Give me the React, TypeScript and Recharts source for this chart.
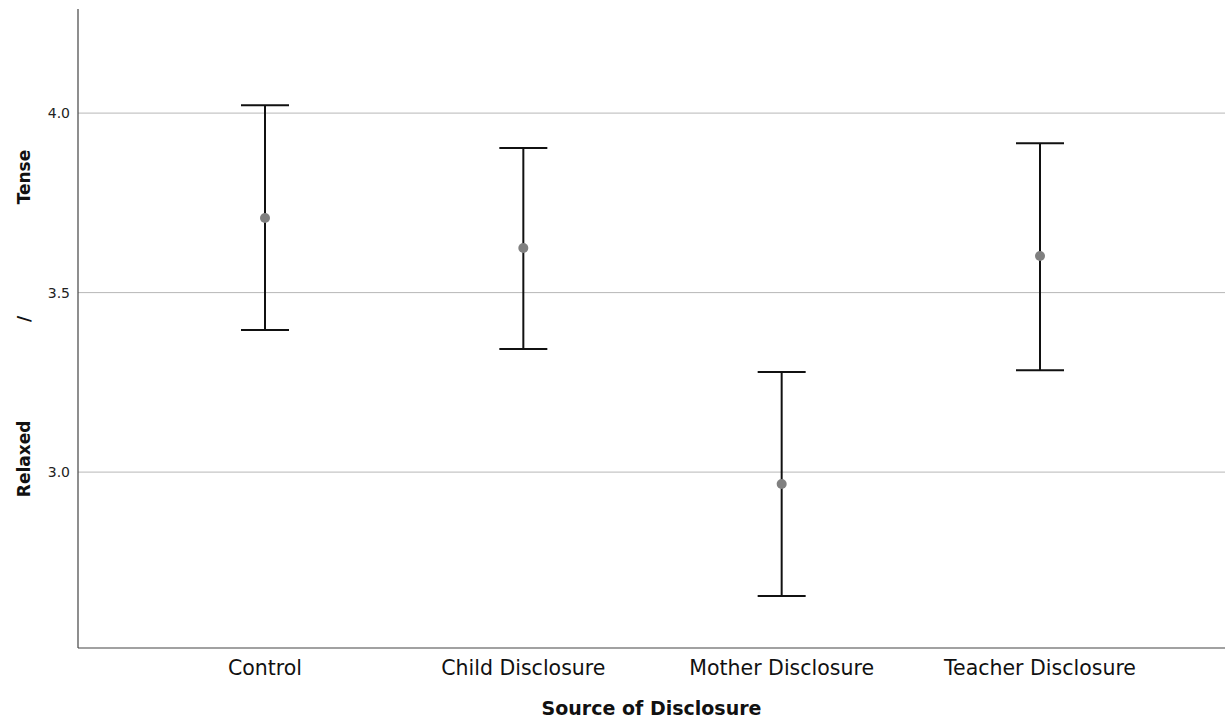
import React from 'react';
import { ComposedChart, Scatter, ErrorBar, XAxis, YAxis, CartesianGrid, Label } from 'recharts';

const categories = ['Control', 'Child Disclosure', 'Mother Disclosure', 'Teacher Disclosure'];
const means = [3.708, 3.624, 2.967, 3.602];
const lowers = [3.396, 3.343, 2.655, 3.284];
const uppers = [4.022, 3.903, 3.279, 3.916];
const yTicks = [3.0, 3.5, 4.0];
const yDomain = [2.51, 4.29];

const data = categories.map((c, i) => ({
  name: c,
  mean: means[i],
  err: [means[i] - lowers[i], uppers[i] - means[i]],
}));

const FONT = 'DejaVu Sans, Verdana, sans-serif';

const YTitle = (props: any) => {
  const vb = props.viewBox || { x: 0, y: 9, width: 78, height: 639 };
  const x = 24;
  const parts: [string, number][] = [
    ['Relaxed', 0.704],
    ['/', 0.485],
    ['Tense', 0.263],
  ];
  return (
    <g>
      {parts.map(([t, f]) => {
        const y = vb.y + vb.height * f;
        return (
          <text
            key={t}
            x={x}
            y={y}
            transform={`rotate(-90, ${x}, ${y})`}
            textAnchor="middle"
            dominantBaseline="central"
            fontFamily={FONT}
            fontWeight="bold"
            fontSize={17}
            fill="#111"
          >
            {t}
          </text>
        );
      })}
    </g>
  );
};

const Dot = (props: any) => {
  const { cx, cy } = props;
  return <circle cx={cx} cy={cy} r={5} fill="#808080" />;
};

const gridGen = (props: any) => {
  const ya = props && props.yAxis;
  if (ya && typeof ya.scale === 'function') {
    return yTicks.map((t) => ya.scale(t));
  }
  const top = props.offset.top;
  const h = props.offset.height;
  return yTicks.map((t) => top + h * (1 - (t - yDomain[0]) / (yDomain[1] - yDomain[0])));
};

export default function App() {
  return (
    <div style={{ position: 'absolute', left: 0, top: 0, background: '#fff' }}>
      <ComposedChart
        width={1225}
        height={719}
        data={data}
        margin={{ top: 9, right: 0, bottom: 0, left: 0 }}
      >
        <CartesianGrid
          horizontal={true}
          vertical={false}
          stroke="#b8b8b8"
          strokeWidth={1}
          horizontalCoordinatesGenerator={gridGen}
        />
        <XAxis
          dataKey="name"
          type="category"
          padding={{ left: 187, right: 185 }}
          height={71}
          tickLine={false}
          axisLine={{ stroke: '#444', strokeWidth: 1.2 }}
          tickMargin={6}
          tick={{ fontFamily: FONT, fontSize: 20.5, fill: '#111' }}
        >
          <Label
            value="Source of Disclosure"
            position="insideBottom"
            offset={4}
            style={{ fontFamily: FONT, fontWeight: 'bold', fontSize: 19, fill: '#111' }}
          />
        </XAxis>
        <YAxis
          type="number"
          domain={yDomain}
          allowDataOverflow
          ticks={yTicks}
          tickFormatter={(v: number) => v.toFixed(1)}
          width={78}
          tickLine={false}
          axisLine={{ stroke: '#444', strokeWidth: 1.2 }}
          tick={{ fontFamily: FONT, fontSize: 14, fill: '#222' }}
        >
          <Label content={<YTitle />} />
        </YAxis>
        <Scatter dataKey="mean" isAnimationActive={false} shape={<Dot />}>
          <ErrorBar dataKey="err" direction="y" width={24} stroke="#111" strokeWidth={2} />
        </Scatter>
      </ComposedChart>
    </div>
  );
}
